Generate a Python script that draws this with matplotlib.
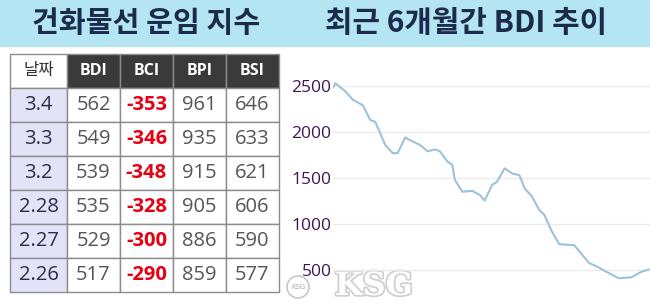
import matplotlib
matplotlib.use("Agg")
import matplotlib.pyplot as plt
import matplotlib.patheffects as pe
from matplotlib.patches import Rectangle, Circle

# ---------------- data ----------------
title_left = "건화물선 운임 지수"
title_right = "최근 6개월간 BDI 추이"

col_labels = ["날짜", "BDI", "BCI", "BPI", "BSI"]
dates = ["3.4", "3.3", "3.2", "2.28", "2.27", "2.26"]
bdi = [562, 549, 539, 535, 529, 517]
bci = [-353, -346, -348, -328, -300, -290]
bpi = [961, 935, 915, 905, 886, 859]
bsi = [646, 633, 621, 606, 590, 577]

# BDI over the last ~6 months (trading-day index, value)
trend_day = [0, 1, 5, 8, 12, 15, 17, 21, 24, 26, 29, 31, 35, 38, 41, 43, 46, 48,
             49, 52, 56, 59, 61, 64, 66, 69, 72, 75, 77, 80, 83, 85, 88, 91, 97,
             103, 106, 111, 115, 120, 124, 127]
trend_val = [2486, 2530, 2440, 2350, 2290, 2130, 2110, 1860, 1770, 1770, 1940,
             1910, 1860, 1790, 1810, 1790, 1680, 1640, 1480, 1350, 1360, 1315,
             1255, 1425, 1460, 1605, 1550, 1530, 1390, 1300, 1150, 1100, 920,
             780, 770, 575, 540, 465, 410, 420, 480, 505]
y_ticks = [500, 1000, 1500, 2000, 2500]

# ---------------- figure ----------------
W, H = 650, 303
fig = plt.figure(figsize=(W / 100, H / 100), dpi=100)
fig.patch.set_facecolor("white")

KFONT = ["Noto Sans CJK KR", "DejaVu Sans"]
NFONT = ["Open Sans", "Noto Sans CJK KR", "DejaVu Sans"]

# overlay axes in pixel coordinates
ov = fig.add_axes([0, 0, 1, 1])
ov.set_xlim(0, W)
ov.set_ylim(H, 0)
ov.axis("off")

# title bar
ov.add_patch(Rectangle((0, 0), W, 47, facecolor="#b3e5f2", edgecolor="none", zorder=0))
ov.text(146, 23, title_left, ha="center", va="center", fontsize=21,
        fontweight="bold", color="#1c2b4b", family=KFONT)
ov.text(466, 23, title_right, ha="center", va="center", fontsize=21.5,
        fontweight="bold", color="#1c2b4b", family=KFONT)

# ---------------- table ----------------
rows = [[d, str(a), str(b), str(c), str(e)] for d, a, b, c, e in zip(dates, bdi, bci, bpi, bsi)]
tx0, ty_bottom, tw, th = 10, 292, 269, 238
tab = ov.table(cellText=rows, colLabels=col_labels, cellLoc="center",
               bbox=[tx0 / W, (H - ty_bottom) / H, tw / W, th / H],
               colWidths=[57, 53, 53, 53, 53])
tab.auto_set_font_size(False)
for (r, c), cell in tab.get_celld().items():
    cell.set_edgecolor("#8c8c8c")
    cell.set_linewidth(1.0)
    txt = cell.get_text()
    txt.set_family(NFONT)
    if r == 0:
        if c == 0:
            cell.set_facecolor("white")
            txt.set_color("#333333")
            txt.set_family(KFONT)
            txt.set_fontsize(12)
        else:
            cell.set_facecolor("#3a3a3a")
            txt.set_color("white")
            txt.set_fontweight("bold")
            txt.set_fontsize(11.5)
    else:
        if c == 0:
            cell.set_facecolor("#e3e3f7")
            txt.set_color("#2b2b4d")
            txt.set_fontsize(14.5)
        else:
            cell.set_facecolor("white")
            txt.set_fontsize(14.5)
            if c == 2:
                txt.set_color("#e60012")
                txt.set_fontweight("bold")
            else:
                txt.set_color("#555555")

# ---------------- line chart ----------------
ax = fig.add_axes([333 / W, 0, (W - 333) / W, (H - 50) / H])
ax.plot(trend_day, trend_val, color="#9cc3da", lw=1.5, solid_joinstyle="round")
ax.set_xlim(0, 127.5)
ax.set_ylim(141, 2891)
ax.set_yticks(y_ticks)
ax.set_xticks([])
ax.grid(axis="y", color="#ebebeb", lw=1)
ax.set_axisbelow(True)
for s in ax.spines.values():
    s.set_visible(False)
ax.tick_params(axis="y", length=0, pad=1, labelsize=12.5, labelcolor="#3d1452")
for lab in ax.get_yticklabels():
    lab.set_family(NFONT)
ax.patch.set_alpha(0)

# watermark
ov.add_patch(Circle((298, 287), 11, facecolor="white", edgecolor="#c8c8c8", lw=1.2, zorder=5))
ov.text(298, 287, "KSG", ha="center", va="center", fontsize=5, color="#aaaaaa", zorder=6)
ov.text(374, 302, "KSG", ha="center", va="bottom", fontsize=23, fontweight="bold",
        family="DejaVu Serif", color="white", zorder=6,
        path_effects=[pe.withStroke(linewidth=2.5, foreground="#cfcfcf")])

fig.savefig("out.png", dpi=100, facecolor="white")
